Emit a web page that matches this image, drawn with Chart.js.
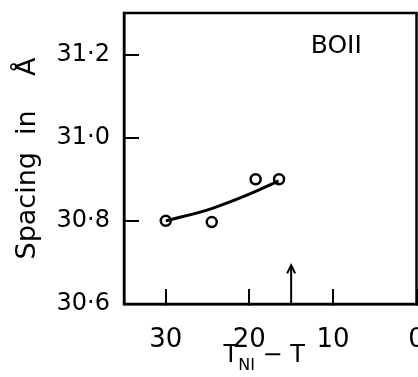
<!DOCTYPE html>
<html>
<head>
<meta charset="utf-8">
<script src="https://cdn.jsdelivr.net/npm/chart.js"></script>
<style>
  html, body { margin: 0; padding: 0; background: #fff; }
  #wrap { width: 418px; height: 377px; }
</style>
</head>
<body>
<div id="wrap"><canvas id="chart"></canvas></div>
<script>
// measured points (T_NI - T, spacing in Å)
const tempDiff = [30, 24.5, 19.25, 16.45];
const spacing = [30.8, 30.797, 30.9, 30.9];

// hand-drawn trend curve
const curveTemp = [30, 24.6, 19.8, 16.5];
const curveSpacing = [30.8, 30.829, 30.866, 30.896];

// arrow marking the transition
const arrowTemp = 15;
const arrowSpacing = [30.6, 30.693];

const xTickValues = [30, 20, 10, 0];
const yTickValues = [30.6, 30.8, 31.0, 31.2];

const sampleLabel = 'BOII';
const fontFamily = '"DejaVu Sans", sans-serif';

const toXY = (xs, ys) => xs.map((x, i) => ({ x: x, y: ys[i] }));

const noPad = (scale) => {
  scale.paddingLeft = 0;
  scale.paddingRight = 0;
  scale.paddingTop = 0;
  scale.paddingBottom = 0;
};

const extrasPlugin = {
  id: 'extras',
  afterDraw(chart) {
    const ctx = chart.ctx;
    const area = chart.chartArea;
    const xs = chart.scales.x;
    const ys = chart.scales.y;
    ctx.save();

    // closed frame
    ctx.strokeStyle = '#000';
    ctx.lineWidth = 2.5;
    ctx.strokeRect(area.left, area.top, area.right - area.left, area.bottom - area.top);

    // arrow
    const ax = xs.getPixelForValue(arrowTemp);
    const ay0 = ys.getPixelForValue(arrowSpacing[0]);
    const ay1 = ys.getPixelForValue(arrowSpacing[1]);
    ctx.lineWidth = 2;
    ctx.beginPath();
    ctx.moveTo(ax, ay0);
    ctx.lineTo(ax, ay1);
    ctx.moveTo(ax - 4, ay1 + 8);
    ctx.lineTo(ax, ay1);
    ctx.lineTo(ax + 4, ay1 + 8);
    ctx.stroke();

    // sample name
    ctx.fillStyle = '#000';
    ctx.font = '25px ' + fontFamily;
    ctx.textAlign = 'center';
    ctx.textBaseline = 'middle';
    ctx.fillText(sampleLabel, xs.getPixelForValue(9.6), ys.getPixelForValue(31.22));

    // x axis title with subscript
    const big = '24px ' + fontFamily;
    const small = '16px ' + fontFamily;
    ctx.textAlign = 'left';
    ctx.textBaseline = 'alphabetic';
    ctx.font = big;
    const wT = ctx.measureText('T').width;
    const wRest = ctx.measureText(' \u2212 T').width;
    ctx.font = small;
    const wSub = ctx.measureText('NI').width;
    const total = wT + wSub + wRest;
    let tx = (area.left + area.right) / 2 - 6 - total / 2;
    const base = 362;
    ctx.font = big;
    ctx.fillText('T', tx, base);
    tx += wT;
    ctx.font = small;
    ctx.fillText('NI', tx, base + 8);
    tx += wSub;
    ctx.font = big;
    ctx.fillText(' \u2212 T', tx, base);

    ctx.restore();
  }
};

new Chart(document.getElementById('chart'), {
  type: 'scatter',
  data: {
    datasets: [
      {
        data: toXY(curveTemp, curveSpacing),
        showLine: true,
        borderColor: '#000',
        borderWidth: 3,
        pointRadius: 0,
        cubicInterpolationMode: 'monotone',
        fill: false
      },
      {
        data: toXY(tempDiff, spacing),
        showLine: false,
        pointRadius: 5,
        pointBorderWidth: 2.5,
        pointBorderColor: '#000',
        pointBackgroundColor: '#fff'
      }
    ]
  },
  options: {
    responsive: true,
    maintainAspectRatio: false,
    animation: false,
    layout: { autoPadding: false, padding: { top: 13, right: 1.5, left: 0, bottom: 0 } },
    plugins: {
      legend: { display: false },
      tooltip: { enabled: false }
    },
    scales: {
      x: {
        type: 'linear',
        reverse: true,
        min: 0,
        max: 35,
        afterBuildTicks: (scale) => { scale.ticks = xTickValues.map(v => ({ value: v })); },
        afterFit: (scale) => { scale.height = 73; noPad(scale); },
        border: { display: true, color: '#000', width: 2.5 },
        grid: { drawOnChartArea: false, drawTicks: true, tickLength: -15, color: '#000', lineWidth: 2 },
        ticks: {
          color: '#000',
          padding: 36,
          maxRotation: 0,
          font: { family: fontFamily, size: 26 },
          callback: (v) => String(v)
        }
      },
      y: {
        type: 'linear',
        min: 30.6,
        max: 31.3,
        afterBuildTicks: (scale) => { scale.ticks = yTickValues.map(v => ({ value: v })); },
        afterFit: (scale) => { scale.width = 124; noPad(scale); },
        border: { display: true, color: '#000', width: 2.5 },
        grid: { drawOnChartArea: false, drawTicks: true, tickLength: -15, color: '#000', lineWidth: 2 },
        ticks: {
          color: '#000',
          padding: 29,
          font: { family: fontFamily, size: 24 },
          callback: (v) => Number(v).toFixed(1).replace('.', '\u00b7')
        },
        title: {
          display: true,
          text: 'Spacing  in    \u00c5',
          color: '#000',
          padding: { top: 12, bottom: 0 },
          font: { family: fontFamily, size: 27 }
        }
      }
    }
  },
  plugins: [extrasPlugin]
});
</script>
</body>
</html>
